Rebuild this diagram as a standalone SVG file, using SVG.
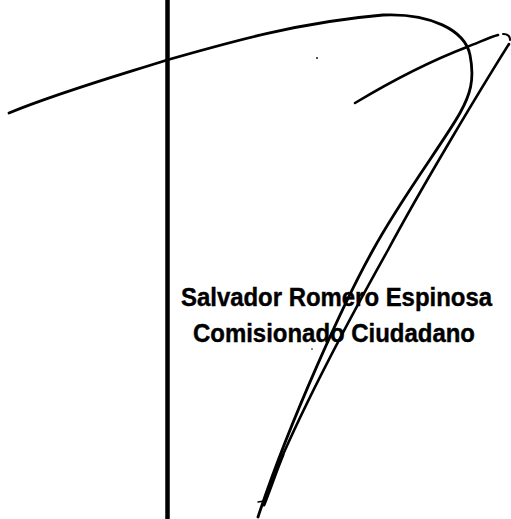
<svg xmlns="http://www.w3.org/2000/svg" width="511" height="519" viewBox="0 0 511 519">
<style>
.ink{fill:none;stroke:#000;stroke-linecap:round;stroke-linejoin:round}
.name{font-family:"Liberation Sans",Arial,sans-serif;font-weight:bold;font-size:25px;fill:#000;stroke:#000;stroke-width:0.4}
</style>
<rect width="511" height="519" fill="#fff"/>
<g id="rule">
<line x1="167.5" y1="0" x2="167.5" y2="519" stroke="#000" stroke-width="4.5"/>
</g>
<g id="signature">
<path class="ink" stroke-width="2.8" d="M9,113 C60,92 120,75 167,60 C230,42 300,22 383,15 C430,13 465,30 470,55 C475,80 470,95 460,113 C445,140 400,200 373,250 C345,300 290,420 258,517"/>
<path class="ink" stroke-width="2.6" d="M355,103 C380,88 420,65 467,47 C480,42 490,37 498,35"/>
<path class="ink" stroke-width="2" d="M503,34 C507,34 510,36 510,40"/>
<path class="ink" stroke-width="2.6" d="M509,44 C480,90 420,190 388,250 C360,300 300,410 268,490"/>
<path class="ink" stroke-width="3" d="M283,455 C276,472 270,490 264,505"/>
<path class="ink" stroke-width="1.5" d="M258,502 L264,501"/>
<circle cx="317" cy="58" r="0.9" fill="#000"/>
<circle cx="312" cy="349" r="0.8" fill="#000"/>
</g>
<g id="name-block">
<text class="name" x="181" y="306" textLength="311" lengthAdjust="spacingAndGlyphs">Salvador Romero Espinosa</text>
<text class="name" x="193" y="342" textLength="282" lengthAdjust="spacingAndGlyphs">Comisionado Ciudadano</text>
</g>
</svg>
